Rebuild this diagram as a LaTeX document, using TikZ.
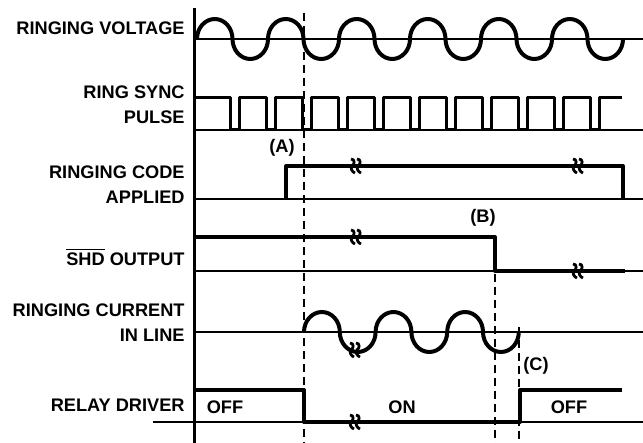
\documentclass[tikz,border=0pt]{standalone}
\usepackage{fontspec}
\setmainfont{Liberation Sans}
\newcommand{\squig}[2]{%
\draw[cutline] ({#1-5},{#2-7}) .. controls ({#1-1},{#2-7}) and ({#1-1},{#2-2}) .. ({#1-4},{#2}) .. controls ({#1-6},{#2+2}) and ({#1-4},{#2+6}) .. ({#1-1},{#2+7});
\draw[cutline] ({#1+1},{#2-7}) .. controls ({#1+5},{#2-7}) and ({#1+5},{#2-2}) .. ({#1+2},{#2}) .. controls ({#1},{#2+2}) and ({#1+2},{#2+6}) .. ({#1+5},{#2+7});}

\begin{document}
\begin{tikzpicture}[x=0.5pt,y=-0.5pt,line join=round]
\tikzset{
  rowlabel/.style={anchor=east,align=right,inner sep=0pt,font=\bfseries\fontsize{9.1}{12.5}\selectfont},
  tagtext/.style={inner sep=0pt,font=\bfseries\fontsize{9.1}{12.5}\selectfont},
  axisline/.style={line width=1.5pt},
  refline/.style={line width=1.1pt},
  sigline/.style={line width=2pt},
  pulseline/.style={line width=1.5pt},
  markline/.style={line width=1pt,dash pattern=on 4pt off 2.5pt},
  cutline/.style={line width=1.4pt},
  hill/.style={start angle=180,end angle=360,x radius=#1,y radius=20},
  dip/.style={start angle=180,end angle=0,x radius=#1,y radius=20}
}
\useasboundingbox (0,0) rectangle (643,443);
% row labels
\node[rowlabel] (lvolt) at (185,28) {RINGING VOLTAGE};
\node[rowlabel] (lsync) at (185,104.5) {RING SYNC\\PULSE};
\node[rowlabel] (lcode) at (185,184.5) {RINGING CODE\\APPLIED};
\node[rowlabel] (lshd) at (185,257) {$\overline{\mbox{SHD}}$ OUTPUT};
\node[rowlabel] (lcurr) at (185,322.5) {RINGING CURRENT\\IN LINE};
\node[rowlabel] (lrelay) at (185,405) {RELAY DRIVER};
% axis and reference lines
\draw[axisline] (194,8) -- (194,443);
\draw[refline] (194,39) -- (643,39);
\draw[refline] (194,130) -- (643,130);
\draw[refline] (194,199) -- (643,199);
\draw[refline] (194,271) -- (643,271);
\draw[refline] (194,332) -- (643,332);
\draw[refline] (153,422) -- (643,422);
% dashed markers
\draw[markline] (304,13) -- (304,443);
\draw[markline] (495,274) -- (495,443);
\draw[markline] (519,327) -- (519,443);
% ringing voltage
\draw[sigline] (197,39) arc[hill=17.75] arc[dip=17.75] arc[hill=17.75] arc[dip=17.75] arc[hill=17.75] arc[dip=17.75]
  arc[hill=17.75] arc[dip=17.75] arc[hill=17.75] arc[dip=17.75] arc[hill=17.75] arc[dip=17.75];
% ring sync pulse
\draw[pulseline] (194,98) -- (230,98) -- (230,130) -- (239,130) -- (239,98) -- (266,98) -- (266,130) -- (275,130) -- (275,98)
  -- (302,98) -- (302,130) -- (311,130) -- (311,98) -- (338,98) -- (338,130) -- (347,130) -- (347,98)
  -- (374,98) -- (374,130) -- (383,130) -- (383,98) -- (410,98) -- (410,130) -- (419,130) -- (419,98)
  -- (446,98) -- (446,130) -- (455,130) -- (455,98) -- (482,98) -- (482,130) -- (491,130) -- (491,98)
  -- (518,98) -- (518,130) -- (527,130) -- (527,98) -- (554,98) -- (554,130) -- (563,130) -- (563,98)
  -- (590,98) -- (590,130) -- (599,130) -- (599,98) -- (622,98);
% ringing code applied
\draw[sigline] (286,199) -- (286,166) -- (623,166) -- (623,199);
\squig{356}{166}
\squig{578}{166}
\node[tagtext] (tagA) at (282,148) {(A)};
% shd output
\draw[sigline] (194,237) -- (495,237) -- (495,271) -- (625,271);
\squig{356}{237}
\squig{578}{271}
\node[tagtext] (tagB) at (483,218) {(B)};
% ringing current
\draw[sigline] (304,332) arc[hill=17.9] arc[dip=17.9] arc[hill=17.9] arc[dip=17.9] arc[hill=17.9] arc[dip=17.9];
\squig{355}{350}
\node[tagtext] (tagC) at (536,366) {(C)};
% relay driver
\draw[sigline] (194,390) -- (304,390) -- (304,422) -- (520,422) -- (520,390) -- (622,390);
\squig{355}{422}
\node[tagtext] (off1) at (225,407) {OFF};
\node[tagtext] (on) at (402,407) {ON};
\node[tagtext] (off2) at (569,407) {OFF};
\end{tikzpicture}
\end{document}
